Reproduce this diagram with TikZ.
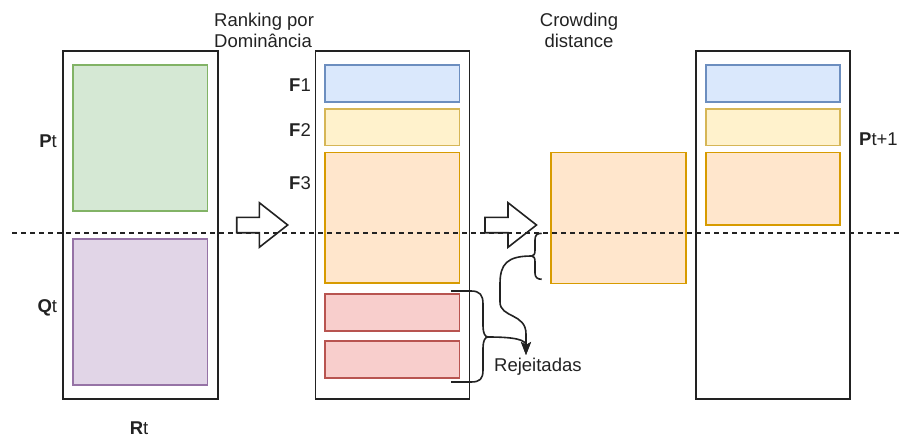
\documentclass[tikz,border=0pt]{standalone}
\usepackage{fontspec}
\setmainfont{Liberation Sans}
\usetikzlibrary{arrows.meta}

\definecolor{ink}{HTML}{222222}
\definecolor{greenF}{HTML}{D5E8D4}\definecolor{greenS}{HTML}{82B366}
\definecolor{purpF}{HTML}{E1D5E7}\definecolor{purpS}{HTML}{9673A6}
\definecolor{blueF}{HTML}{DAE8FC}\definecolor{blueS}{HTML}{6C8EBF}
\definecolor{yellF}{HTML}{FFF2CC}\definecolor{yellS}{HTML}{D6B656}
\definecolor{oranF}{HTML}{FFE6CC}\definecolor{oranS}{HTML}{D79B00}
\definecolor{redF}{HTML}{F8CECC}\definecolor{redS}{HTML}{B85450}

\begin{document}
\begin{tikzpicture}[x=1pt,y=-1pt,
  every node/.style={font=\fontsize{18.5}{21.7}\selectfont, text=ink},
  box/.style={draw=ink, line width=1.8pt, fill=white, anchor=north west,
    inner sep=0pt, outer sep=0pt},
  cell/.style={line width=1.6pt, anchor=north west, inner sep=0pt, outer sep=0pt},
  label/.style={inner sep=0pt},
  blockarrow/.style={draw=ink, line width=1.6pt, fill=white, line join=miter},
  brace/.style={draw=ink, line width=1.6pt},
  link/.style={draw=ink, line width=1.6pt, -{Stealth[length=13pt,width=10pt,inset=3pt]}}]

\useasboundingbox (0,0) rectangle (903,439);

% population R_t = P_t + Q_t
\node[box, minimum width=155pt, minimum height=348.3pt] (rt) at (63,50.7) {};
\node[cell, draw=greenS, fill=greenF, minimum width=134.5pt, minimum height=145.7pt] (pt) at (73,65) {};
\node[cell, draw=purpS, fill=purpF, minimum width=134.5pt, minimum height=145.7pt] (qt) at (73,239) {};
\node[label, anchor=east] (ptl) at (57,141.7) {\textbf{P}t};
\node[label, anchor=east] (qtl) at (57.3,308) {\textbf{Q}t};
\node[label] (rtl) at (139,428) {\textbf{R}t};

% non-dominated sorting into fronts
\node[box, minimum width=154pt, minimum height=348.3pt] (mid) at (315.5,50.7) {};
\node[cell, draw=blueS, fill=blueF, minimum width=134.3pt, minimum height=36.7pt] (f1) at (325,65) {};
\node[cell, draw=yellS, fill=yellF, minimum width=134.3pt, minimum height=36.3pt] (f2) at (325,109) {};
\node[cell, draw=oranS, fill=oranF, minimum width=134.3pt, minimum height=130.5pt] (f3) at (325,152.3) {};
\node[cell, draw=redS, fill=redF, minimum width=134.3pt, minimum height=36.7pt] (r1) at (325,294) {};
\node[cell, draw=redS, fill=redF, minimum width=134.3pt, minimum height=36.7pt] (r2) at (325,341) {};
\node[label, anchor=east] (f1l) at (311,85) {\textbf{F}1};
\node[label, anchor=east] (f2l) at (311,130) {\textbf{F}2};
\node[label, anchor=east] (f3l) at (311,183) {\textbf{F}3};
\node[label, anchor=north west, align=left] (rank) at (214,12.5) {Ranking por\\Dominância};

% front F3 sorted by crowding distance
\node[cell, draw=oranS, fill=oranF, minimum width=134.7pt, minimum height=131pt] (f3c) at (551,152.3) {};
\node[label, anchor=north, align=center] (crowd) at (579,12.5) {Crowding\\distance};

% next population
\node[box, minimum width=154.6pt, minimum height=348.3pt] (next) at (695.7,50.7) {};
\node[cell, draw=blueS, fill=blueF, minimum width=134pt, minimum height=36.7pt] (n1) at (706,65) {};
\node[cell, draw=yellS, fill=yellF, minimum width=134pt, minimum height=36.3pt] (n2) at (706,109) {};
\node[cell, draw=oranS, fill=oranF, minimum width=134pt, minimum height=72.7pt] (n3) at (706,152.3) {};
\node[label, anchor=west] (nextl) at (859,139.3) {\textbf{P}t+1};

% hollow block arrows
\draw[blockarrow] (236.7,217.3) -- (259.3,217.3) -- (259.3,202.7) -- (287.7,225)
  -- (259.3,247.3) -- (259.3,232.7) -- (236.7,232.7) -- cycle;
\draw[blockarrow] (485,217.3) -- (508,217.3) -- (508,202.7) -- (536.5,225)
  -- (508,247.3) -- (508,232.7) -- (485,232.7) -- cycle;

% braces and the rejected set
\coordinate (b1) at (488,337);
\coordinate (b2) at (531.7,256);
\coordinate (rejin) at (526,355);
\draw[brace] (451,291) -- (471,291) .. controls (480,291) and (483,295) .. (483,304)
  -- (483,326) .. controls (483,333) and (485,337) .. (b1)
  .. controls (485,337) and (483,341) .. (483,348) -- (483,370)
  .. controls (483,379) and (480,382) .. (471,382) -- (451,382);
\draw[brace] (541.7,233.3) .. controls (537,233.3) and (535,235) .. (535,240)
  -- (535,250) .. controls (535,254) and (534,256) .. (b2)
  .. controls (534,256) and (535,258) .. (535,262) -- (535,273)
  .. controls (535,277) and (537,279.3) .. (541.7,279.3);
\node[label, anchor=west] (rej) at (494,366.7) {Rejeitadas};
\draw[link] (b1) .. controls (516,337) and (526,340) .. (rejin);
\draw[link] (b2) .. controls (507,256) and (500,264) .. (500,284) -- (500,302)
  .. controls (500,318) and (526,313) .. (526,334) -- (rejin);

% cut line between P_t and Q_t
\coordinate (cutA) at (12,233.3);
\coordinate (cutB) at (903,233.3);
\draw[ink, line width=1.9pt, dash pattern=on 5pt off 4pt] (cutA) -- (cutB);
\end{tikzpicture}
\end{document}
